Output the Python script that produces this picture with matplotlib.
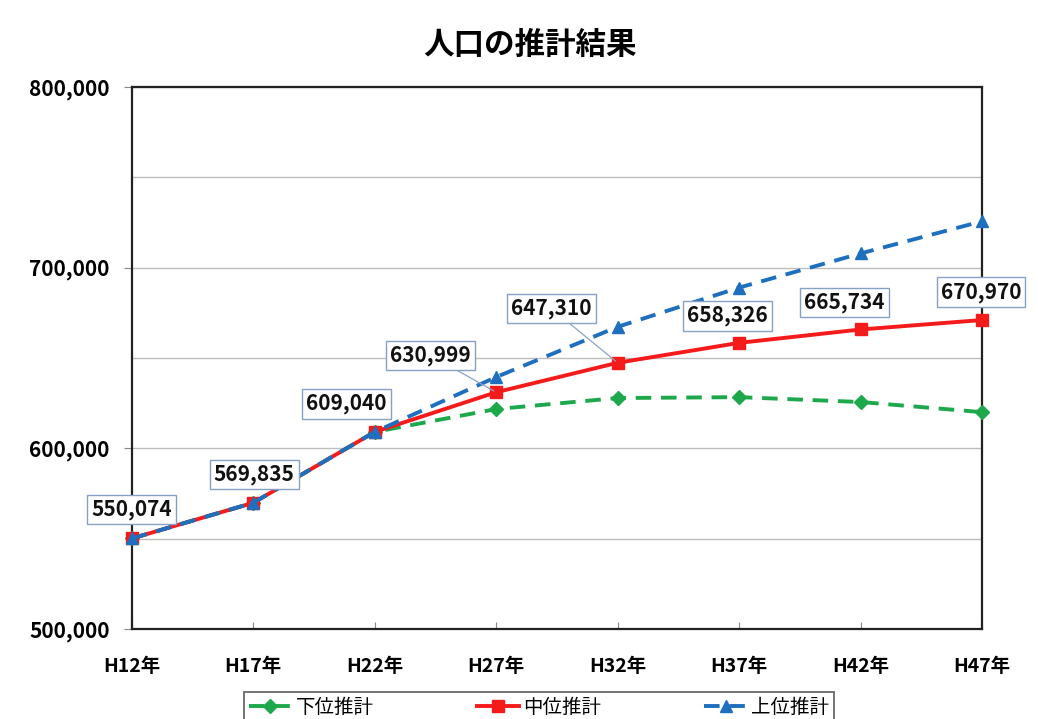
import numpy as np
import matplotlib

matplotlib.use('Agg')
import matplotlib.pyplot as plt
from matplotlib.ticker import MultipleLocator, FuncFormatter

plt.rcParams['font.family'] = ['Noto Sans CJK JP', 'DejaVu Sans']

years = ['H12年', 'H17年', 'H22年', 'H27年', 'H32年', 'H37年', 'H42年', 'H47年']
low = [550074, 569835, 609040, 621700, 627800, 628300, 625600, 620000]
mid = [550074, 569835, 609040, 630999, 647310, 658326, 665734, 670970]
high = [550074, 569835, 609040, 639400, 667200, 688900, 707800, 725600]
series_names = ['下位推計', '中位推計', '上位推計']

# label offsets (pixels) relative to the middle-series points
label_offsets = [(0, 29), (1, 28), (-28, 28), (-66, 37), (-66, 54), (-12, 27), (-16, 27), (-1, 28)]
leader = [False, False, False, True, True, False, False, False]

fig = plt.figure(figsize=(10.38, 7.19), dpi=100)
ax = fig.add_axes([0.127, 0.1252, 0.819, 0.754])

x = np.arange(len(years))
c_low, c_mid, c_high = '#1ea84c', '#f51b1b', '#1f6fbf'

ax.plot(x, low, color=c_low, lw=2.8, ls=(0, (4, 2.5)), marker='D', ms=7,
        label=series_names[0], zorder=3, clip_on=False)
ax.plot(x, mid, color=c_mid, lw=2.8, marker='s', ms=9,
        label=series_names[1], zorder=4, clip_on=False)
ax.plot(x, high, color=c_high, lw=2.8, ls=(0, (4, 2.5)), marker='^', ms=9,
        label=series_names[2], zorder=5, clip_on=False)

for i, v in enumerate(mid):
    dx, dy = label_offsets[i]
    ap = dict(arrowstyle='-', color='#8da4c4', lw=0.9, shrinkA=0, shrinkB=2) if leader[i] else None
    ax.annotate(f'{v:,}', xy=(x[i], v), xytext=(dx, dy), textcoords='offset pixels',
                ha='center', va='center', fontsize=15, fontweight='bold', color='#111111',
                bbox=dict(boxstyle='square,pad=0.2', fc='white', ec='#86a0c6', lw=1),
                arrowprops=ap, zorder=6, annotation_clip=False)

ax.set_xlim(0, len(years) - 1)
ax.set_ylim(500000, 800000)
ax.yaxis.set_major_locator(MultipleLocator(100000))
ax.yaxis.set_minor_locator(MultipleLocator(50000))
ax.yaxis.set_major_formatter(FuncFormatter(lambda v, p: f'{int(v):,}'))
ax.grid(True, which='both', axis='y', color='#bdbdbd', lw=1, zorder=0)
ax.set_axisbelow(True)

ax.set_xticks(x)
ax.set_xticklabels(years, fontsize=14, fontweight='bold')
ax.tick_params(axis='x', direction='in', length=5, color='#888888', pad=20)
ax.tick_params(axis='y', which='major', direction='out', length=6, color='#888888', pad=10, labelsize=15)
ax.tick_params(axis='y', which='minor', length=0)
for lab in ax.get_yticklabels():
    lab.set_fontweight('bold')

for sp in ax.spines.values():
    sp.set_color('#222222')
    sp.set_linewidth(1.6)

fig.text(530 / 1038, 1 - 45 / 719, '人口の推計結果', ha='center', va='center', fontsize=22, fontweight='bold')

leg = fig.legend(loc='upper center', bbox_to_anchor=(539 / 1038, 1 - 682 / 719), ncol=3,
                 fontsize=14, frameon=True, fancybox=False, edgecolor='#444444',
                 handlelength=2.2, columnspacing=5.3, borderpad=0.25, handletextpad=0.2)
leg.get_frame().set_linewidth(1.3)

fig.savefig('out.png', dpi=100)
